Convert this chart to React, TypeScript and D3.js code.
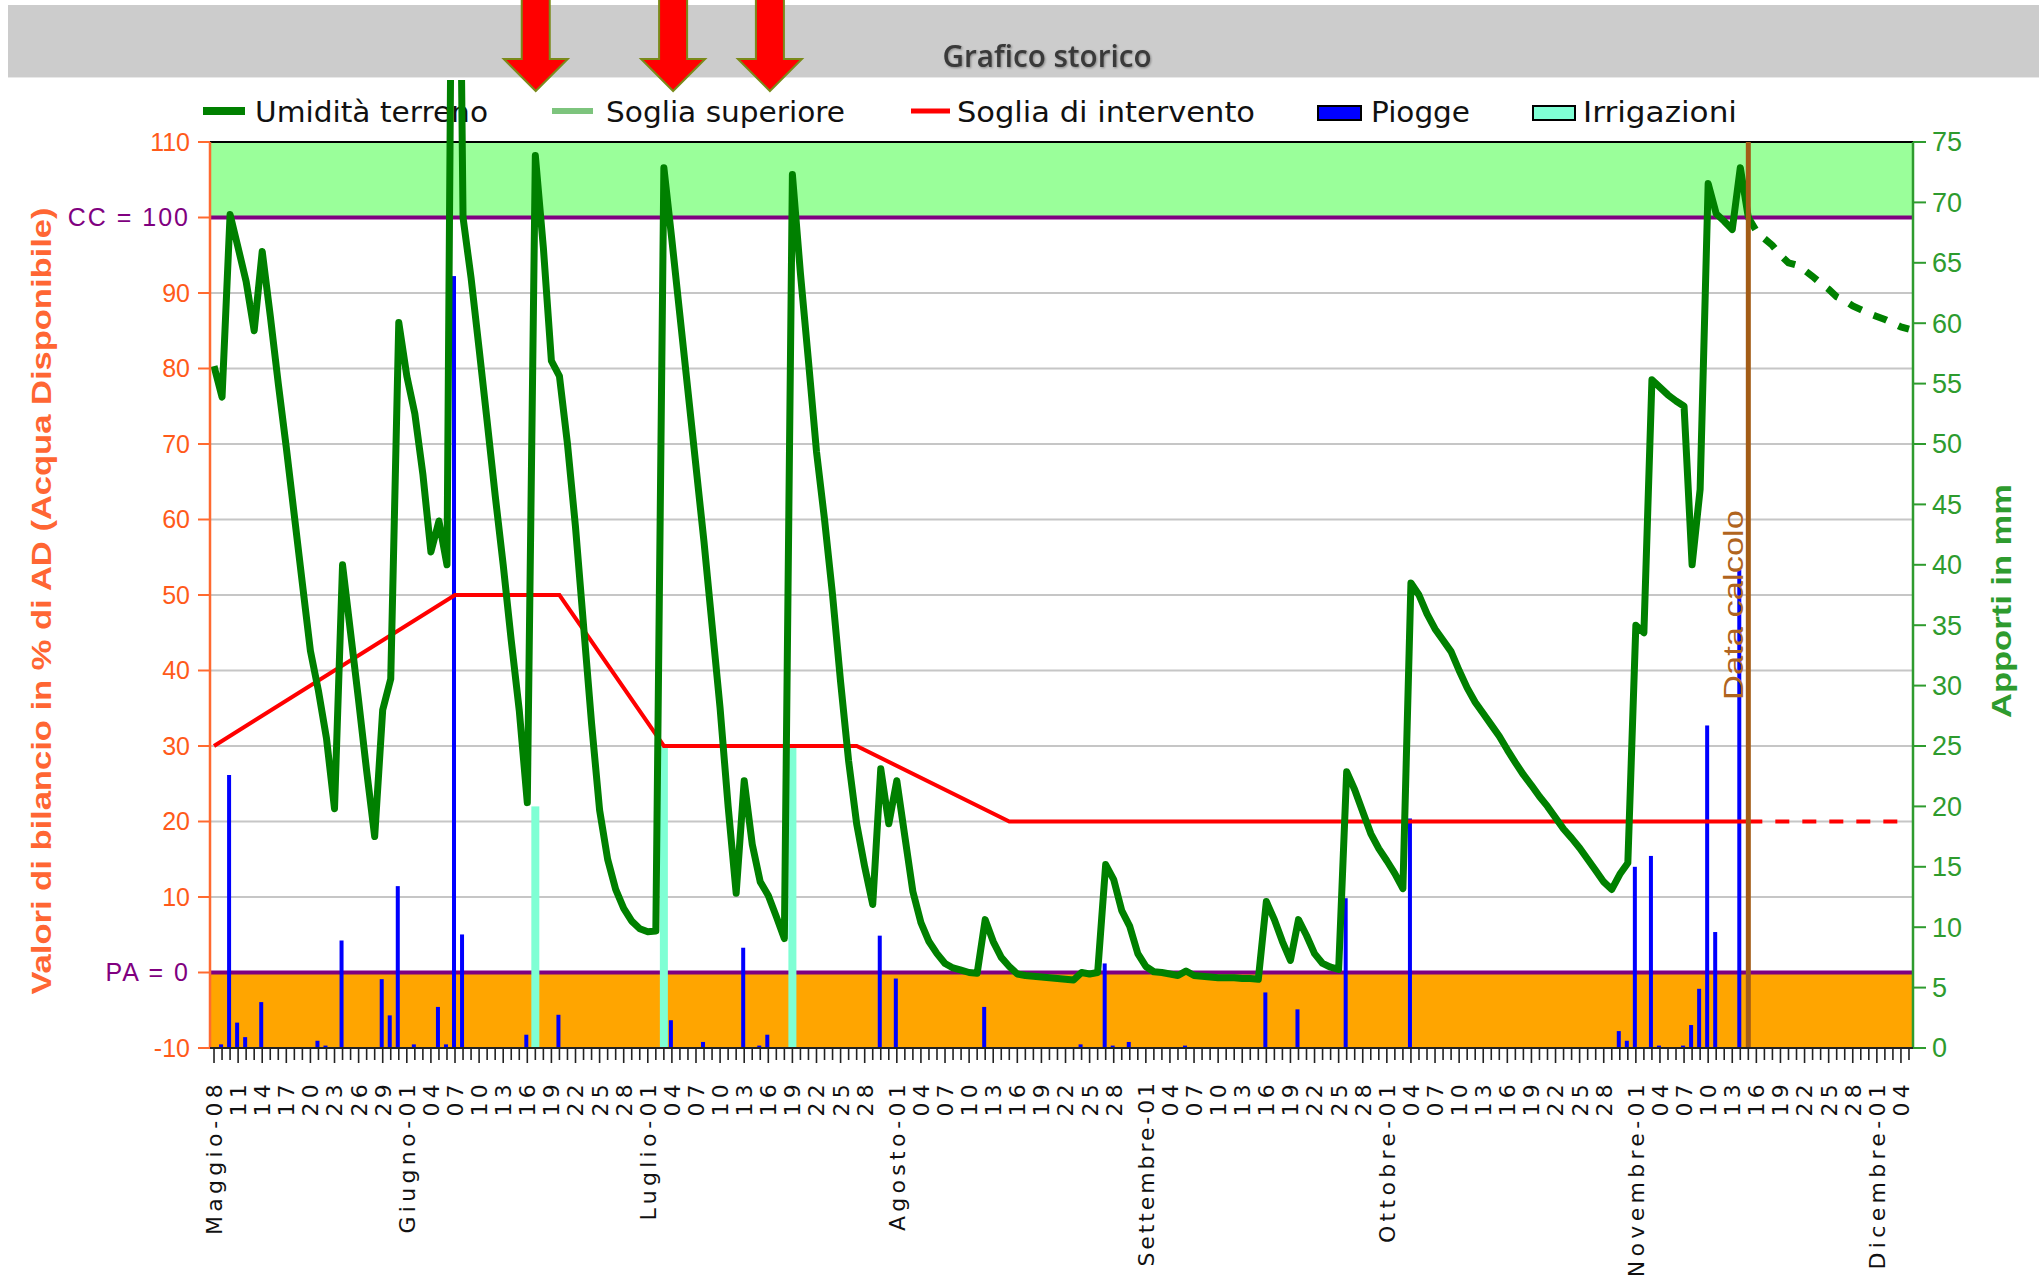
import React from 'react';
import * as d3 from 'd3';

const W = 2039, H = 1280;
const L = 210, R = 1913, T = 142, B = 1048;

// Umidità terreno (% AD), one value per day starting Maggio-08 (day 0) up to Data calcolo (day 191)
const moisture = [
  80.3, 76.2, 100.4, 96, 91.5, 85, 95.5, 87, 78, 69.5,
  60.5, 51.5, 42.6, 37.3, 31, 21.7, 54, 45, 36, 26.7,
  18, 34.8, 38.9, 86.1, 79, 74, 66, 55.7, 59.8, 54,
  200, 100, 92, 82.6, 73, 63.2, 54, 44, 34.7, 22.5,
  108.2, 96, 81, 79, 70, 59, 46, 33, 21.5, 15,
  11, 8.5, 6.8, 5.8, 5.4, 5.5, 106.6, 97, 87, 77,
  67, 57, 46, 35, 22, 10.5, 25.4, 17, 12, 10.2,
  7.4, 4.5, 105.7, 92.6, 81, 69, 60, 50, 38.5, 28,
  19.7, 14, 9, 27, 19.7, 25.4, 18, 10.7, 6.6, 4.1,
  2.5, 1.2, 0.6, 0.3, 0, -0.1, 7, 4.1, 2, 0.8,
  -0.2, -0.4, -0.5, -0.6, -0.7, -0.8, -0.9, -1, 0, -0.2,
  0, 14.3, 12.3, 8.2, 6.1, 2.5, 0.8, 0.1, 0, -0.2,
  -0.4, 0.2, -0.4, -0.5, -0.6, -0.7, -0.7, -0.7, -0.8, -0.8,
  -0.9, 9.4, 7, 4.1, 1.6, 7, 4.9, 2.5, 1.2, 0.7,
  0.4, 26.6, 24.2, 21.3, 18.4, 16.4, 14.8, 13.1, 11.1, 51.6,
  50, 47.5, 45.5, 44, 42.5, 40, 37.7, 35.8, 34.3, 32.8,
  31.3, 29.5, 27.8, 26.2, 24.8, 23.3, 22, 20.5, 19, 17.8,
  16.5, 15, 13.5, 12, 11, 13, 14.5, 46, 45, 78.5,
  77.5, 76.5, 75.7, 75, 54, 64, 104.5, 100.5, 99.5, 98.4,
  106.6, 100,
];

// forecast (dashed), from Data calcolo (day 191) on
const forecastStart = 191;
const forecast = [100, 98.2, 97.2, 96.3, 95, 94, 93.7, 93, 92.2, 91.3, 90.5, 89.5, 89, 88.3, 87.8, 87.3, 86.9, 86.5, 86, 85.5, 85.2];

// Soglia di intervento vertices
const thresholdDays = [0, 30, 43, 56, 80, 99, 191];
const thresholdVals = [30, 50, 50, 30, 30, 20, 20];
const thresholdFcDays = [191, 210];
const thresholdFcVals = [20, 20];

// Piogge (mm, right axis)
const rainDay = [1, 2, 3, 4, 6, 13, 14, 16, 21, 22, 23, 25, 28, 29, 30, 31, 39, 43, 57, 61, 66, 68, 69, 83, 85, 96, 108, 111, 112, 114, 121, 131, 135, 141, 149, 175, 176, 177, 179, 180, 183, 184, 185, 186, 187, 190];
const rainMm = [0.3, 22.6, 2.1, 0.9, 3.8, 0.6, 0.2, 8.9, 5.7, 2.7, 13.4, 0.3, 3.4, 0.3, 63.9, 9.4, 1.1, 2.75, 2.3, 0.5, 8.3, 0.2, 1.1, 9.3, 5.75, 3.4, 0.3, 7, 0.2, 0.5, 0.2, 4.6, 3.2, 12.4, 19, 1.4, 0.6, 15, 15.9, 0.2, 0.2, 1.9, 4.9, 26.7, 9.6, 39.6];

// Irrigazioni (mm, right axis)
const irrDay = [40, 56, 72];
const irrMm = [20, 25, 25];

const dataCalcoloDay = 191;
const arrowDays = [40.05, 57.15, 69.2];

const leftTicks = [-10, 0, 10, 20, 30, 40, 50, 60, 70, 80, 90, 100, 110];
const rightTicks = [0, 5, 10, 15, 20, 25, 30, 35, 40, 45, 50, 55, 60, 65, 70, 75];
const monthNames = ['Gennaio', 'Febbraio', 'Marzo', 'Aprile', 'Maggio', 'Giugno', 'Luglio', 'Agosto', 'Settembre', 'Ottobre', 'Novembre', 'Dicembre'];
const nDays = 212;

const legendLabels = ['Umidità terreno', 'Soglia superiore', 'Soglia di intervento', 'Piogge', 'Irrigazioni'];

const xL = d3.scaleLinear().domain([-0.5, nDays - 0.5]).range([L, R]);
const yL = d3.scaleLinear().domain([-10, 110]).range([B, T]);
const yR = d3.scaleLinear().domain([0, 75]).range([B, T]);

const start = new Date(2019, 4, 8);
const days = d3.timeDay.range(start, d3.timeDay.offset(start, nDays));

function dayLabel(date: Date, i: number): string | null {
  const dom = date.getDate();
  const m = date.getMonth();
  const show = m === 4 ? (dom - 8) % 3 === 0 : (dom - 1) % 3 === 0 && dom <= 28;
  if (!show) return null;
  const dd = String(dom).padStart(2, '0');
  return i === 0 || dom === 1 ? `${monthNames[m]}-${dd}` : dd;
}

const ORANGE_TXT = '#ff5a1a';
const GREEN_TXT = '#2e9b2e';
const PURPLE = '#800080';

export default function App() {
  const moistLine = d3.line<number>().x((_, i) => xL(i)).y(v => yL(v))(moisture) || '';
  const fcLine = d3.line<number>().x((_, i) => xL(forecastStart + i)).y(v => yL(v))(forecast) || '';
  const thLine = d3.line<number>().x((_, i) => xL(thresholdDays[i])).y(v => yL(v))(thresholdVals) || '';
  const thFcLine = d3.line<number>().x((_, i) => xL(thresholdFcDays[i])).y(v => yL(v))(thresholdFcVals) || '';
  const dcX = xL(dataCalcoloDay);

  const legendFont = { fontFamily: '"DejaVu Sans", Verdana, sans-serif', fontSize: 29, fill: '#111' };

  return (
    <svg width={W} height={H} style={{ position: 'absolute', left: 0, top: 0, display: 'block', background: '#fff' }}>
      <defs>
        <clipPath id="lineClip">
          <rect x={L} y={80} width={R - L} height={B - 80} />
        </clipPath>
      </defs>
      {/* title bar */}
      <rect x={8} y={5} width={W - 8} height={72} fill="#cccccc" />
      <line x1={8} x2={W} y1={77.5} y2={77.5} stroke="#e8e8e8" strokeWidth={1} />
      <text x={1047} y={67} textAnchor="middle" fontFamily='"Open Sans", "Liberation Sans", sans-serif' fontWeight={600} fontSize={30}
        fill="#3a3a3a" textLength={209} lengthAdjust="spacingAndGlyphs" style={{ filter: 'drop-shadow(1px 1px 1px rgba(0,0,0,0.35))' }}>Grafico storico</text>

      {/* legend */}
      <line x1={203} x2={245} y1={111} y2={111} stroke="#008000" strokeWidth={8} />
      <text x={255} y={122} {...legendFont} textLength={233} lengthAdjust="spacingAndGlyphs">{legendLabels[0]}</text>
      <line x1={552} x2={593} y1={111} y2={111} stroke="#7dc47d" strokeWidth={6} />
      <text x={606} y={122} {...legendFont} textLength={239} lengthAdjust="spacingAndGlyphs">{legendLabels[1]}</text>
      <line x1={911} x2={950} y1={111} y2={111} stroke="#ff0000" strokeWidth={5} />
      <text x={957} y={122} {...legendFont} textLength={298} lengthAdjust="spacingAndGlyphs">{legendLabels[2]}</text>
      <rect x={1318} y={106} width={43} height={14} fill="#0000ff" stroke="#000" strokeWidth={2} />
      <text x={1371} y={122} {...legendFont} textLength={99} lengthAdjust="spacingAndGlyphs">{legendLabels[3]}</text>
      <rect x={1533} y={106} width={42} height={14} fill="#7fffd4" stroke="#000" strokeWidth={2} />
      <text x={1583} y={122} {...legendFont} textLength={154} lengthAdjust="spacingAndGlyphs">{legendLabels[4]}</text>

      {/* plot background */}
      <rect x={L} y={yL(110)} width={R - L} height={yL(100) - yL(110)} fill="#9aff9a" />
      <rect x={L} y={yL(0)} width={R - L} height={yL(-10) - yL(0)} fill="#ffa500" />
      {leftTicks.filter(v => v > 0 && v < 100).map(v => (
        <line key={'g' + v} x1={L} x2={R} y1={yL(v)} y2={yL(v)} stroke="#c6c6c6" strokeWidth={2} />
      ))}
      <line x1={L} x2={R} y1={yL(110)} y2={yL(110)} stroke="#000" strokeWidth={2} />
      <line x1={L} x2={R} y1={yL(100)} y2={yL(100)} stroke={PURPLE} strokeWidth={4} />
      <line x1={L} x2={R} y1={yL(0)} y2={yL(0)} stroke={PURPLE} strokeWidth={4} />

      {/* irrigations */}
      {irrDay.map((d, i) => (
        <rect key={'irr' + i} x={xL(d) - 4} y={yR(irrMm[i])} width={8} height={B - yR(irrMm[i])} fill="#7fffd4" />
      ))}
      {/* rain */}
      {rainDay.map((d, i) => (
        <rect key={'r' + i} x={xL(d) - 3} y={yR(rainMm[i])} width={4} height={B - yR(rainMm[i])} fill="#0000ff" />
      ))}

      {/* threshold */}
      <path d={thLine} fill="none" stroke="#ff0000" strokeWidth={4} />
      <path d={thFcLine} fill="none" stroke="#ff0000" strokeWidth={4} strokeDasharray="14 13" />

      {/* soil moisture */}
      <g clipPath="url(#lineClip)">
        <path d={moistLine} fill="none" stroke="#008000" strokeWidth={7} strokeLinejoin="round" />
        <path d={fcLine} fill="none" stroke="#008000" strokeWidth={7} strokeDasharray="14 13" />
      </g>

      {/* Data calcolo */}
      <line x1={dcX} x2={dcX} y1={T} y2={B} stroke="#a35c16" strokeWidth={5} />
      <text transform={`translate(${dcX - 5},700) rotate(-90)`} fontFamily='"Liberation Sans", Arial, sans-serif' fontSize={28}
        fill="#b0641e" textLength={190} lengthAdjust="spacingAndGlyphs">Data calcolo</text>

      {/* axes lines */}
      <line x1={L} x2={L} y1={T} y2={B} stroke="#ff6a30" strokeWidth={2.5} />
      <line x1={R} x2={R} y1={T} y2={B} stroke="#2e9b2e" strokeWidth={2.5} />
      <line x1={L} x2={R} y1={B} y2={B} stroke="#222" strokeWidth={2} />

      {/* left axis */}
      {leftTicks.map(v => (
        <g key={'lt' + v}>
          <line x1={L - 12} x2={L} y1={yL(v)} y2={yL(v)} stroke="#ff6a30" strokeWidth={2} />
          <text x={190} y={yL(v)} dy="0.35em" textAnchor="end" fontFamily='"Liberation Sans", Arial, sans-serif' fontSize={25}
            fill={v === 100 || v === 0 ? PURPLE : ORANGE_TXT} letterSpacing={v === 100 || v === 0 ? 2 : 0}>
            {v === 100 ? 'CC = 100' : v === 0 ? 'PA = 0' : String(v)}
          </text>
        </g>
      ))}
      <text transform="translate(42,601) rotate(-90)" textAnchor="middle" dy="0.35em" fontFamily='"Liberation Sans", Arial, sans-serif'
        fontWeight="bold" fontSize={27} fill="#ff6633" textLength={787} lengthAdjust="spacingAndGlyphs">
        Valori di bilancio in % di AD (Acqua Disponibile)
      </text>

      {/* right axis */}
      {rightTicks.map(v => (
        <g key={'rt' + v}>
          <line x1={R} x2={R + 13} y1={yR(v)} y2={yR(v)} stroke="#2e9b2e" strokeWidth={2} />
          <text x={1932} y={yR(v)} dy="0.35em" fontFamily='"Liberation Sans", Arial, sans-serif' fontSize={27} fill={GREEN_TXT}>{v}</text>
        </g>
      ))}
      <text transform="translate(2002,601) rotate(-90)" textAnchor="middle" dy="0.35em" fontFamily='"Liberation Sans", Arial, sans-serif'
        fontWeight="bold" fontSize={27} fill="#2e9b2e" textLength={234} lengthAdjust="spacingAndGlyphs">Apporti in mm</text>

      {/* x axis */}
      {days.map((dt, i) => {
        const lab = dayLabel(dt, i);
        const x = xL(i);
        return (
          <g key={'x' + i}>
            <line x1={x} x2={x} y1={B} y2={B + (lab ? 15 : 12)} stroke="#222" strokeWidth={1.6} />
            {lab && (
              <text transform={`translate(${x},1080) rotate(-90)`} textAnchor="end" dy="0.36em"
                fontFamily='"DejaVu Sans", Verdana, sans-serif' fontSize={22} letterSpacing={lab.length >= 12 ? 2.9 : 4.3} fill="#111">{lab}</text>
            )}
          </g>
        );
      })}

      {/* annotation arrows */}
      {arrowDays.map((d, i) => {
        const cx = xL(d);
        const p = `M${cx - 14},-2 L${cx + 14},-2 L${cx + 14},59 L${cx + 32},59 L${cx},91 L${cx - 32},59 L${cx - 14},59 Z`;
        return <path key={'a' + i} d={p} fill="#ff0000" stroke="#7a8a1a" strokeWidth={2} />;
      })}
    </svg>
  );
}
